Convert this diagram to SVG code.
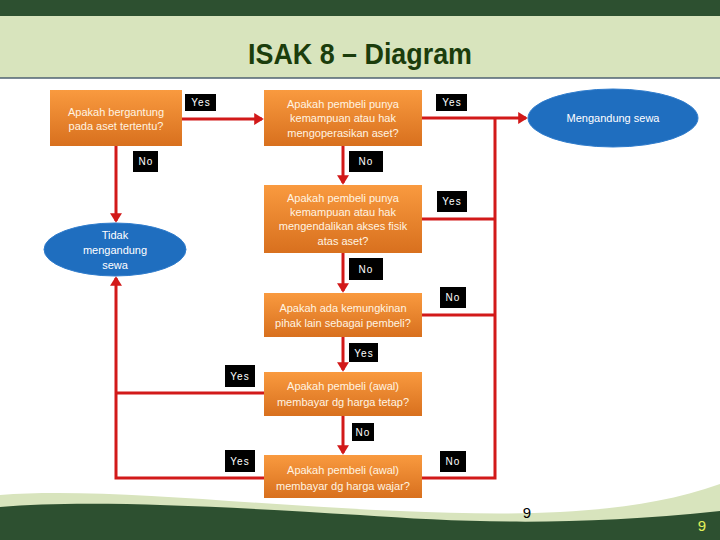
<svg xmlns="http://www.w3.org/2000/svg" width="720" height="540" viewBox="0 0 720 540">
<style>
.box{fill:url(#og);}
.bt{font-family:"Liberation Sans",Arial,sans-serif;font-size:11px;fill:#fff4e2;text-anchor:middle;}
.ell{fill:#1f6ebf;stroke:#2f7ccc;stroke-width:1;}
.et{font-family:"Liberation Sans",Arial,sans-serif;font-size:11px;fill:#ffffff;text-anchor:middle;}
.lb{fill:#000000;}
.lt{font-family:"Liberation Sans",Arial,sans-serif;font-size:10px;fill:#ffffff;text-anchor:middle;letter-spacing:1px;}
.ln{fill:none;stroke:#d21919;stroke-width:3;}
.ar{fill:none;stroke:#d21919;stroke-width:3;marker-end:url(#ah);}
</style>
<defs>
<linearGradient id="og" x1="0" y1="0" x2="0" y2="1">
<stop offset="0" stop-color="#f99a3f"/>
<stop offset="1" stop-color="#d8701e"/>
</linearGradient>
<marker id="ah" markerWidth="4" markerHeight="4" refX="2.6" refY="2" orient="auto" markerUnits="strokeWidth">
<path d="M0,0 L3.2,2 L0,4 Z" fill="#d21919"/>
</marker>
</defs>
<rect width="720" height="540" fill="#ffffff"/>
<g id="header">
<rect x="0" y="0" width="720" height="16" fill="#2d5030"/>
<rect x="0" y="16" width="720" height="62" fill="#d8e4bd"/>
<line x1="0" y1="78" x2="720" y2="78" stroke="#4f6272" stroke-width="1.5"/>
<text x="360" y="64" font-family="Liberation Sans,Arial,sans-serif" font-size="29" font-weight="bold" fill="#1b3d0c" text-anchor="middle" textLength="224" lengthAdjust="spacingAndGlyphs">ISAK 8 – Diagram</text>
</g>
<g id="footer">
<path d="M0,495 C100,487 250,505 400,511 C520,516 630,516 720,484 L720,540 L0,540 Z" fill="#d8e4bd"/>
<path d="M0,507 C80,500 200,505 360,515 C460,522 570,527 720,511 L720,540 L0,540 Z" fill="#2d5030"/>
<text x="527" y="518" font-family="Liberation Sans,Arial,sans-serif" font-size="15" fill="#000000" text-anchor="middle">9</text>
<text x="702" y="531" font-family="Liberation Sans,Arial,sans-serif" font-size="15" fill="#e2f05a" text-anchor="middle">9</text>
</g>
<g id="connectors">
<line class="ar" x1="182" y1="119" x2="262" y2="119"/>
<line class="ar" x1="422" y1="118" x2="526" y2="118"/>
<line class="ar" x1="116" y1="146" x2="116" y2="221"/>
<line class="ar" x1="343" y1="146" x2="343" y2="183"/>
<line class="ar" x1="343" y1="253" x2="343" y2="291"/>
<line class="ar" x1="343" y1="337" x2="343" y2="370"/>
<line class="ar" x1="343" y1="416" x2="343" y2="453"/>
<polyline class="ln" points="495,118 495,478 422,478"/>
<line class="ln" x1="422" y1="219" x2="495" y2="219"/>
<line class="ln" x1="422" y1="315" x2="495" y2="315"/>
<line class="ln" x1="264" y1="393" x2="116" y2="393"/>
<polyline class="ar" points="264,478 116,478 116,278"/>
</g>
<g id="labels">
<rect class="lb" x="185" y="94" width="31" height="17"/><text class="lt" x="201" y="106">Yes</text>
<rect class="lb" x="133" y="151" width="25" height="21"/><text class="lt" x="146" y="165">No</text>
<rect class="lb" x="436" y="94" width="31" height="17"/><text class="lt" x="452" y="106">Yes</text>
<rect class="lb" x="349" y="151" width="34" height="21"/><text class="lt" x="366" y="165">No</text>
<rect class="lb" x="437" y="191" width="30" height="21"/><text class="lt" x="452" y="205">Yes</text>
<rect class="lb" x="349" y="258" width="34" height="22"/><text class="lt" x="366" y="273">No</text>
<rect class="lb" x="440" y="287" width="26" height="21"/><text class="lt" x="453" y="301">No</text>
<rect class="lb" x="349" y="343" width="29" height="19"/><text class="lt" x="364" y="357">Yes</text>
<rect class="lb" x="225" y="365" width="30" height="22"/><text class="lt" x="240" y="380">Yes</text>
<rect class="lb" x="352" y="423" width="22" height="18"/><text class="lt" x="363" y="436">No</text>
<rect class="lb" x="225" y="450" width="30" height="22"/><text class="lt" x="240" y="465">Yes</text>
<rect class="lb" x="440" y="451" width="26" height="21"/><text class="lt" x="453" y="465">No</text>
</g>
<g id="n1">
<rect class="box" x="50" y="90" width="132" height="56"/>
<text class="bt" x="116" y="116">Apakah bergantung</text>
<text class="bt" x="116" y="130">pada aset tertentu?</text>
</g>
<g id="n2">
<rect class="box" x="264" y="90" width="158" height="56"/>
<text class="bt" x="343" y="108">Apakah pembeli punya</text>
<text class="bt" x="343" y="122">kemampuan atau hak</text>
<text class="bt" x="343" y="137">mengoperasikan aset?</text>
</g>
<g id="e1">
<ellipse class="ell" cx="613" cy="118" rx="85" ry="29"/>
<text class="et" x="613" y="122">Mengandung sewa</text>
</g>
<g id="n3">
<rect class="box" x="264" y="185" width="158" height="68"/>
<text class="bt" x="343" y="202">Apakah pembeli punya</text>
<text class="bt" x="343" y="216">kemampuan atau hak</text>
<text class="bt" x="343" y="230">mengendalikan akses fisik</text>
<text class="bt" x="343" y="245">atas aset?</text>
</g>
<g id="e2">
<ellipse class="ell" cx="115" cy="249.5" rx="71" ry="26.5"/>
<text class="et" x="115" y="239">Tidak</text>
<text class="et" x="115" y="254">mengandung</text>
<text class="et" x="115" y="269">sewa</text>
</g>
<g id="n4">
<rect class="box" x="264" y="293" width="158" height="44"/>
<text class="bt" x="343" y="312">Apakah ada kemungkinan</text>
<text class="bt" x="343" y="327">pihak lain sebagai pembeli?</text>
</g>
<g id="n5">
<rect class="box" x="264" y="372" width="158" height="44"/>
<text class="bt" x="343" y="390">Apakah  pembeli (awal)</text>
<text class="bt" x="343" y="406">membayar dg harga tetap?</text>
</g>
<g id="n6">
<rect class="box" x="264" y="455" width="158" height="43"/>
<text class="bt" x="343" y="474">Apakah  pembeli (awal)</text>
<text class="bt" x="343" y="490">membayar dg harga wajar?</text>
</g>
</svg>
